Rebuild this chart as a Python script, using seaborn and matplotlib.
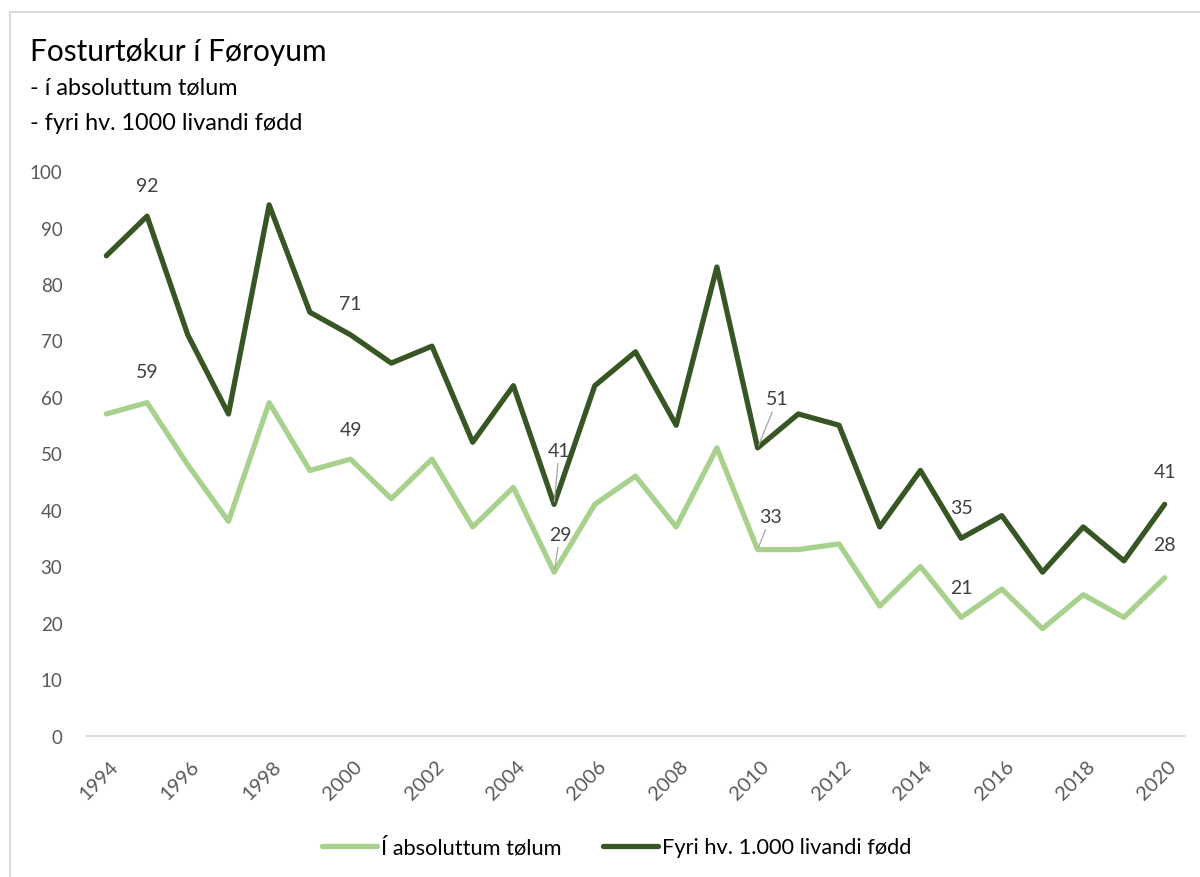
import numpy as np
import pandas as pd
import seaborn as sns
import matplotlib.pyplot as plt
from matplotlib.lines import Line2D
from matplotlib.transforms import ScaledTranslation

years = list(range(1994, 2021))
absolute = [57, 59, 48, 38, 59, 47, 49, 42, 49, 37, 44, 29, 41, 46, 37, 51,
            33, 33, 34, 23, 30, 21, 26, 19, 25, 21, 28]
per_1000 = [85, 92, 71, 57, 94, 75, 71, 66, 69, 52, 62, 41, 62, 68, 55, 83,
            51, 57, 55, 37, 47, 35, 39, 29, 37, 31, 41]
series_names = ['Í absoluttum tølum', 'Fyri hv. 1.000 livandi fødd']
labelled_years = [1995, 2000, 2005, 2010, 2015, 2020]

light = '#a9d18e'
dark = '#375623'
grey = '#595959'

sns.set_style('white')
plt.rcParams['font.family'] = ['Lato', 'DejaVu Sans']

fig = plt.figure(figsize=(12, 8.78), dpi=100)
ax = fig.add_axes([86 / 1200, 1 - 737 / 878, (1185 - 86) / 1200, (737 - 172) / 878])

df = pd.DataFrame({'year': years, 'abs': absolute, 'rate': per_1000})
sns.lineplot(data=df, x='year', y='abs', color=light, lw=3.8, ax=ax)
sns.lineplot(data=df, x='year', y='rate', color=dark, lw=3.8, ax=ax)

ax.set_xlim(1993.5, 2020.5)
ax.set_ylim(0, 100)
ax.set_yticks(np.arange(0, 101, 10))
ax.set_xticks(years[::2])
ax.set_xlabel('')
ax.set_ylabel('')
for s in ['top', 'right', 'left']:
    ax.spines[s].set_visible(False)
ax.spines['bottom'].set_color('#d9d9d9')
ax.spines['bottom'].set_linewidth(1.3)
ax.tick_params(axis='both', length=0, labelsize=13.5, labelcolor=grey)
ax.tick_params(axis='y', pad=17)
ax.tick_params(axis='x', pad=15, labelsize=14.5)
plt.setp(ax.get_xticklabels(), rotation=45, ha='right', va='top',
         rotation_mode='anchor')
for lab in ax.get_xticklabels():
    lab.set_transform(lab.get_transform() + ScaledTranslation(3 / 100, 0, fig.dpi_scale_trans))

# data labels (offsets in pixels)
offsets_rate = {1995: (0, 31), 2000: (0, 31), 2005: (5, 54), 2010: (20, 49),
                2015: (0, 31), 2020: (0, 33)}
offsets_abs = {1995: (0, 31), 2000: (0, 30), 2005: (6, 38), 2010: (13, 33),
               2015: (0, 30), 2020: (0, 33)}
leader = {2005, 2010}
for vals, offs in [(per_1000, offsets_rate), (absolute, offsets_abs)]:
    for yr in labelled_years:
        v = vals[years.index(yr)]
        kw = {}
        if yr in leader:
            kw['arrowprops'] = dict(arrowstyle='-', color='#a6a6a6', lw=0.9,
                                    shrinkA=1, shrinkB=2)
        ax.annotate(str(v), xy=(yr, v), xytext=offs[yr],
                    textcoords='offset pixels', ha='center', va='center',
                    fontsize=14, color='#404040', **kw)

# title
fig.text(30 / 1200, 1 - 52 / 878, 'Fosturtøkur í Føroyum', fontsize=21.5,
         va='center', color='black')
fig.text(30 / 1200, 1 - 88 / 878, '- í absoluttum tølum', fontsize=16.8,
         va='center', color='black')
fig.text(30 / 1200, 1 - 123 / 878, '- fyri hv. 1000 livandi fødd', fontsize=16.8,
         va='center', color='black')

# legend
handles = [Line2D([], [], color=light, lw=3.8, solid_capstyle='round'),
           Line2D([], [], color=dark, lw=3.8, solid_capstyle='round')]
fig.legend(handles, series_names, loc='center', bbox_to_anchor=(0.514, 1 - 848 / 878),
           ncol=2, frameon=False, fontsize=15.7, handlelength=2.5,
           handletextpad=0.2, columnspacing=1.9, labelcolor='black')

# chart frame (left and top edge only visible)
fig.add_artist(Line2D([10 / 1200, 10 / 1200], [0, 1 - 13 / 878],
                      transform=fig.transFigure, color='#d9d9d9', lw=1.5))
fig.add_artist(Line2D([10 / 1200, 1], [1 - 13 / 878, 1 - 13 / 878],
                      transform=fig.transFigure, color='#d9d9d9', lw=1.5))

fig.savefig('out.png', dpi=100)
